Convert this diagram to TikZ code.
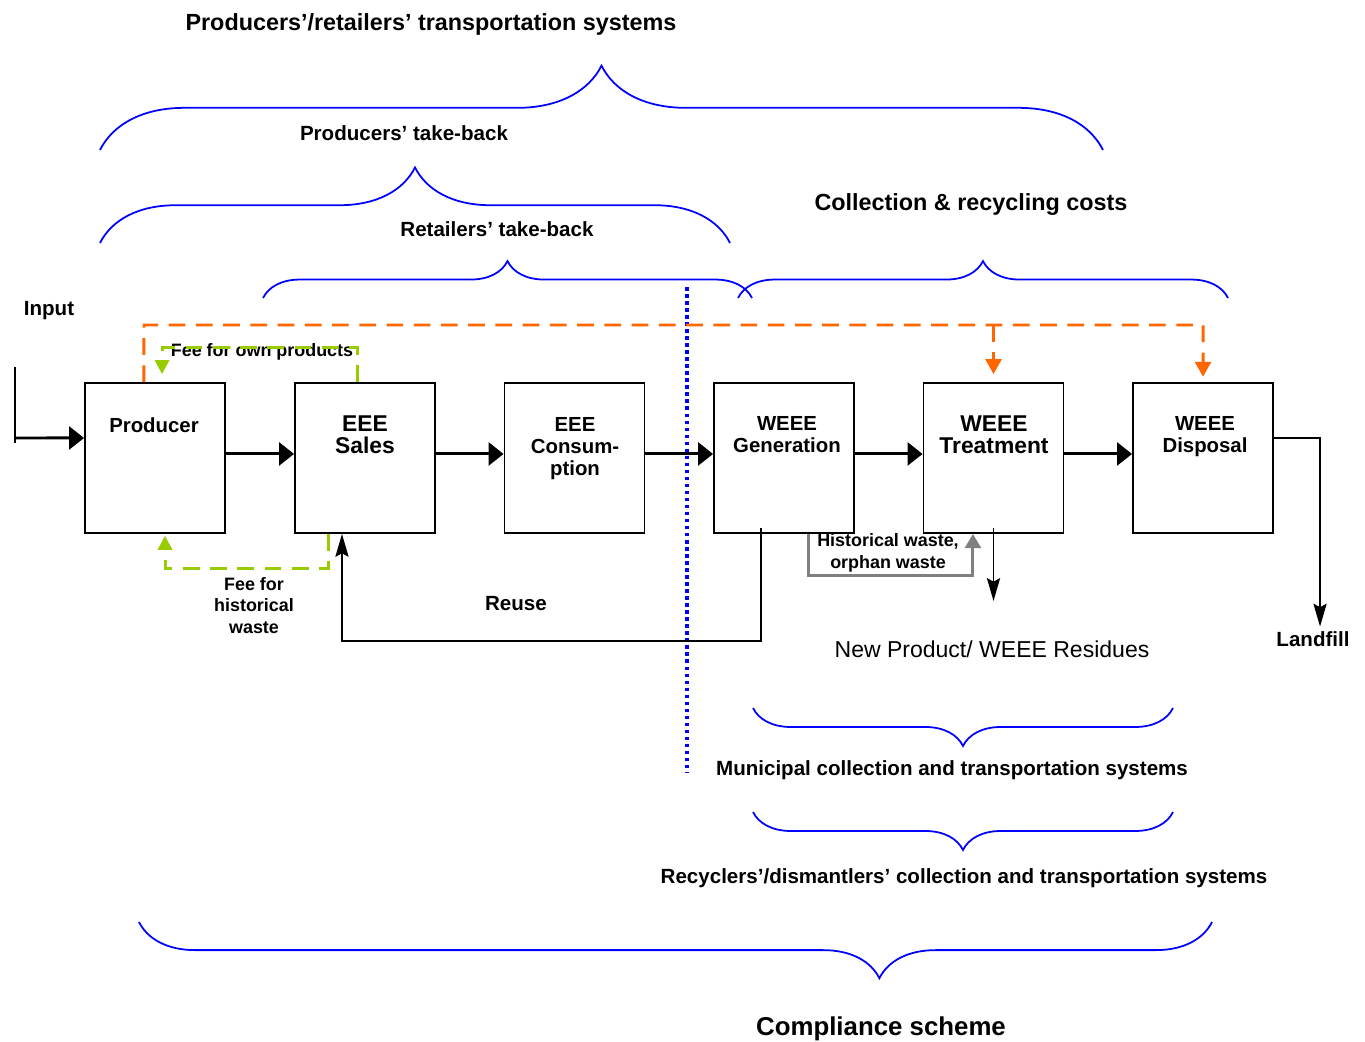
\documentclass[tikz,border=0pt]{standalone}
\usepackage{fontspec}
\setmainfont{Liberation Sans}
\usetikzlibrary{arrows.meta,decorations.pathreplacing}
\definecolor{feeorange}{HTML}{FF6600}
\definecolor{feegreen}{HTML}{99CC00}
\definecolor{histgray}{HTML}{808080}

\begin{document}
\begin{tikzpicture}[x=0.02cm, y=-0.02cm,
    box/.style={draw=black, line width=1.1pt, minimum width=2.8cm, minimum height=3cm, inner sep=0pt},
    boxtext/.style={font=\fontsize{11.6}{12.5}\selectfont\bfseries, align=center, inner sep=0pt},
    bigtext/.style={font=\fontsize{13}{12.5}\selectfont\bfseries, align=center, inner sep=0pt},
    lbl/.style={font=\fontsize{11.7}{13}\selectfont\bfseries, align=center, inner sep=0pt},
    headtext/.style={font=\fontsize{13.3}{15}\selectfont\bfseries, inner sep=0pt},
    smalltext/.style={font=\fontsize{10.2}{12.2}\selectfont\bfseries, align=center, inner sep=0pt},
    flow/.style={draw=black, line width=1.7pt, -{Triangle[length=8.5pt,width=13pt]}},
    thinarrow/.style={draw=black, line width=1pt, -{Stealth[length=13pt,width=7.5pt,inset=2pt]}},
    orangefee/.style={draw=feeorange, line width=1.7pt, dash pattern=on 9.5pt off 6pt, -{Triangle[length=8.5pt,width=9pt]}},
    greenfee/.style={draw=feegreen, line width=1.7pt, dash pattern=on 9.5pt off 6pt, -{Triangle[length=8pt,width=8pt]}},
    histarrow/.style={draw=histgray, line width=1.7pt, -{Triangle[length=8pt,width=9pt]}},
    bracestyle/.style={draw=blue, line width=1pt, decorate},
    divider/.style={draw=blue, line width=2pt, dash pattern=on 2pt off 2pt}
  ]

    \useasboundingbox (0,0) rectangle (1365,1041);

    % flow boxes
    \node[box] (prod)  at (155,458) {};
    \node[box] (sales) at (365,458) {};
    \node[box] (cons)  at (574.5,458) {};
    \node[box] (gen)   at (784,458) {};
    \node[box] (treat) at (993.5,458) {};
    \node[box] (disp)  at (1203,458) {};

    \node[boxtext] (prodt)  at (154,425) {Producer};
    \node[bigtext] (salest) at (365,435) {EEE\\Sales};
    \node[boxtext] (const)  at (575,448.5) {EEE\\Consum-\\ption};
    \node[boxtext] (gent)   at (787,435) {WEEE\\Generation};
    \node[bigtext] (treatt) at (994,435) {WEEE\\Treatment};
    \node[boxtext] (dispt)  at (1205,437) {WEEE\\Disposal};

    % labels
    \node[headtext] (ttrans) at (431,24) {Producers’/retailers’ transportation systems};
    \node[lbl] (tprod) at (404,133) {Producers’ take-back};
    \node[lbl] (tret) at (497,229) {Retailers’ take-back};
    \node[headtext] (tcost) at (971,205) {Collection \& recycling costs};
    \node[lbl] (tinput) at (49,311) {Input};
    \node[smalltext] (tfeeown) at (262,352) {Fee for own products};
    \node[smalltext] (tfeehist) at (254,605.5) {Fee for\\historical\\waste};
    \node[lbl] (treuse) at (516,604) {Reuse};
    \node[smalltext] (thist) at (888,553) {Historical waste,\\orphan waste};
    \node[font=\fontsize{13.1}{15}\selectfont, inner sep=0pt] (tnew) at (992,649) {New Product/ WEEE Residues};
    \node[lbl] (tland) at (1313,639) {Landfill};
    \node[lbl] (tmun) at (952,770) {Municipal collection and transportation systems};
    \node[lbl] (trec) at (964,878) {Recyclers’/dismantlers’ collection and transportation systems};
    \node[font=\fontsize{14.7}{17}\selectfont\bfseries, inner sep=0pt] (tcomp) at (881,1029) {Compliance scheme};

    % braces
    \draw[bracestyle, decoration={brace, amplitude=48pt}] (100,150) -- (1103,150);
    \draw[bracestyle, decoration={brace, amplitude=43pt}] (100,243) -- (730,243);
    \draw[bracestyle, decoration={brace, amplitude=21pt}] (263,298) -- (752,298);
    \draw[bracestyle, decoration={brace, amplitude=21pt}] (738,298) -- (1228,298);
    \draw[bracestyle, decoration={brace, mirror, amplitude=21.6pt}] (753,708) -- (1173,708);
    \draw[bracestyle, decoration={brace, mirror, amplitude=21.6pt}] (753,812) -- (1173,812);
    \draw[bracestyle, decoration={brace, mirror, amplitude=32pt, aspect=0.69}] (139,922) -- (1212,922);

    % divider
    \coordinate (dtop) at (687,287);
    \coordinate (dbot) at (687,773);
    \draw[divider] (dtop) -- (dbot);

    % input
    \coordinate (intop) at (15,367);
    \coordinate (inbot) at (15,443);
    \coordinate (inp) at (15,438);
    \draw[draw=black, line width=1.1pt] (intop) -- (inbot);
    \draw[flow] (inp) -- ([yshift=11.4pt]prod.west);

    % main flow
    \foreach \a/\b in {prod/sales, sales/cons, cons/gen, gen/treat, treat/disp}
        \draw[flow] ([yshift=2.3pt]\a.east) -- ([yshift=2.3pt]\b.west);

    % fees
    \coordinate (otop) at (144,325);
    \draw[orangefee, shorten >=3pt] ([xshift=-6.3pt]prod.north) -- (otop) -| (disp.north);
    \draw[orangefee, shorten >=4.5pt] (treat.north |- otop) -- (treat.north);
    \draw[greenfee, shorten >=4.5pt] ([xshift=-4pt]sales.north) -- ++(0,-35) -| ([xshift=4pt]prod.north);
    \draw[greenfee, shorten >=1pt] ([xshift=-21pt]sales.south) -- ++(0,35) -| ([xshift=5.7pt]prod.south);

    % reuse, residues, landfill
    \draw[thinarrow] ([xshift=-13.1pt,yshift=3.4pt]gen.south) -- ++(0,113) -| ([xshift=-13.1pt]sales.south);
    \draw[histarrow] ([xshift=13.7pt]gen.south) -- ++(0,42) -| ([xshift=-11.7pt]treat.south);
    \draw[thinarrow] ([yshift=3.4pt]treat.south) -- ++(0,73);
    \draw[thinarrow] ([yshift=11.4pt]disp.east) -| ([xshift=4pt,yshift=2.6pt]tland.north);

\end{tikzpicture}
\end{document}
